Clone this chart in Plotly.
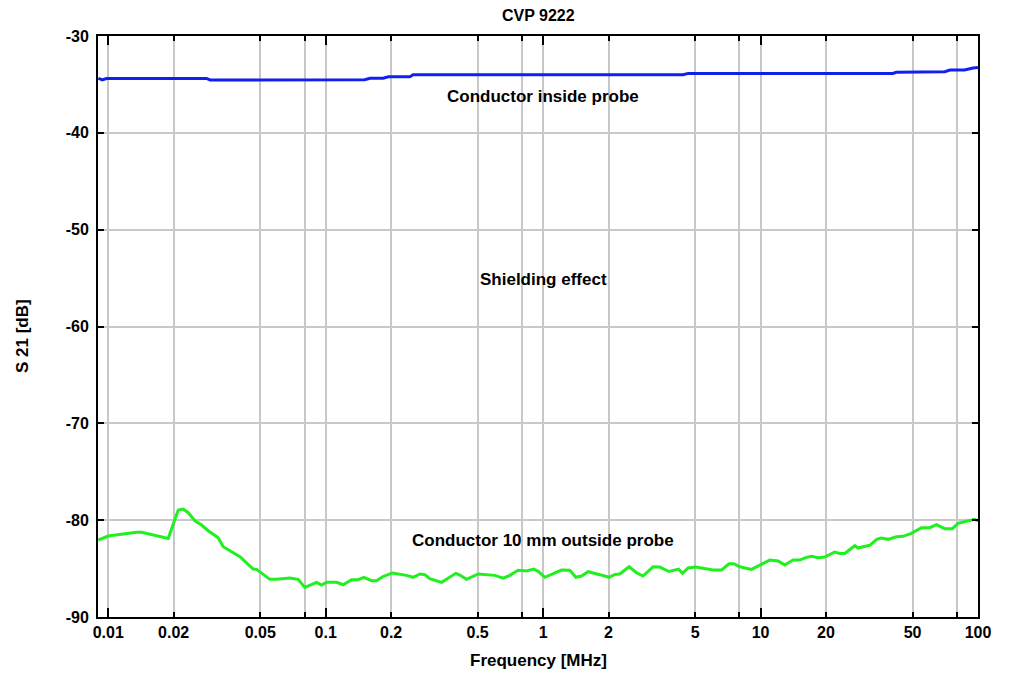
import plotly.graph_objects as go

# Blue: conductor inside probe
blue_f = [0.009, 0.0094, 0.0098, 0.0283, 0.0294, 0.151, 0.160, 0.184, 0.194, 0.244, 0.252,
          4.40, 4.65, 40.6, 42.1, 49.4, 53.1, 70.3, 74.4, 86.6, 95.0, 100.0]
blue_db = [-34.37, -34.54, -34.40, -34.38, -34.54, -34.52, -34.36, -34.36, -34.22, -34.22, -34.00,
           -34.00, -33.86, -33.86, -33.75, -33.75, -33.68, -33.68, -33.51, -33.51, -33.30, -33.25]

# Green: conductor 10 mm outside probe
green_f = [0.009, 0.0100, 0.01351, 0.01424, 0.01888, 0.02099, 0.02213, 0.02333, 0.02504, 0.02688,
           0.02883, 0.03205, 0.03379, 0.04032, 0.04642, 0.04812, 0.05538, 0.05945, 0.06844, 0.07474,
           0.08024, 0.09083, 0.09575, 0.1010, 0.1122, 0.1204, 0.1316, 0.1411, 0.1498, 0.1626,
           0.1714, 0.1827, 0.2022, 0.2193, 0.2355, 0.2525, 0.2711, 0.2858, 0.3013, 0.3412,
           0.3597, 0.3968, 0.4140, 0.4444, 0.5026, 0.5997, 0.6549, 0.7030, 0.7676, 0.8389,
           0.9063, 0.9484, 1.018, 1.215, 1.327, 1.414, 1.502, 1.610, 1.823, 2.011,
           2.137, 2.252, 2.486, 2.688, 2.883, 3.203, 3.440, 3.790, 4.20, 4.375,
           4.642, 5.036, 6.047, 6.611, 7.164, 7.530, 8.024, 9.083, 11.02, 12.04,
           12.92, 14.11, 15.14, 16.26, 17.14, 18.38, 19.73, 21.93, 23.13, 24.39,
           27.12, 28.07, 29.60, 31.78, 34.32, 35.96, 38.57, 42.15, 45.20, 49.41,
           54.94, 59.97, 64.39, 70.30, 76.27, 80.91, 96.56, 100.0]
green_db = [-82.05, -81.64, -81.26, -81.26, -81.88, -78.95, -78.85, -79.23, -80.06, -80.50,
            -81.09, -81.81, -82.74, -83.77, -85.05, -85.08, -86.11, -86.11, -85.98, -86.11,
            -86.94, -86.42, -86.70, -86.42, -86.42, -86.67, -86.15, -86.15, -85.90, -86.25,
            -86.25, -85.84, -85.46, -85.56, -85.70, -85.90, -85.56, -85.63, -86.05, -86.42,
            -86.11, -85.49, -85.67, -86.11, -85.56, -85.70, -85.98, -85.70, -85.18, -85.25,
            -85.05, -85.28, -85.90, -85.15, -85.18, -85.90, -85.77, -85.32, -85.63, -85.90,
            -85.60, -85.56, -84.81, -85.43, -85.77, -84.81, -84.84, -85.30, -85.05, -85.49,
            -84.94, -84.84, -85.15, -85.15, -84.50, -84.50, -84.81, -85.08, -84.12, -84.22,
            -84.63, -84.12, -84.12, -83.84, -83.74, -83.88, -83.81, -83.29, -83.43, -83.43,
            -82.64, -82.88, -82.74, -82.60, -81.95, -81.84, -81.98, -81.71, -81.67, -81.36,
            -80.78, -80.78, -80.47, -80.88, -80.88, -80.33, -79.92, -80.06]

x_tickvals = [0.01, 0.02, 0.05, 0.08, 0.1, 0.2, 0.5, 0.8, 1, 2, 5, 8, 10, 20, 50, 80, 100]
x_ticktext = ["0.01", "0.02", "0.05", "", "0.1", "0.2", "0.5", "", "1", "2", "5", "", "10", "20", "50", "", "100"]
x_major = [0.01, 0.1, 1, 10, 100]
y_tickvals = [-30, -40, -50, -60, -70, -80, -90]
y_ticktext = ["-30", "-40", "-50", "-60", "-70", "-80", "-90"]

annotations_text = ["Conductor inside probe", "Shielding effect", "Conductor 10 mm outside probe"]
annotations_y = [-36.2, -55.1, -82.15]

FONT = "Liberation Sans, Arial, sans-serif"

fig = go.Figure()
fig.add_trace(go.Scatter(x=blue_f, y=blue_db, mode="lines",
                         line=dict(color="#1020f0", width=3), showlegend=False))
fig.add_trace(go.Scatter(x=green_f, y=green_db, mode="lines",
                         line=dict(color="#20f020", width=3), showlegend=False))
# invisible trace on overlay axis for longer decade ticks
fig.add_trace(go.Scatter(x=[0.01, 100], y=[-60, -60], mode="lines", xaxis="x2",
                         line=dict(width=0), opacity=0, showlegend=False, hoverinfo="skip"))

for t, yv in zip(annotations_text, annotations_y):
    fig.add_annotation(x=0, y=yv, xref="x", yref="y", text="<b>%s</b>" % t, showarrow=False,
                       font=dict(family=FONT, size=17, color="black"))

# title and axis titles
fig.add_annotation(x=0.5008, y=1.0361, xref="paper", yref="paper", text="<b>CVP 9222</b>",
                   showarrow=False, xanchor="center", yanchor="middle",
                   font=dict(family=FONT, size=16, color="black"))
fig.add_annotation(x=0.5008, y=-0.0757, xref="paper", yref="paper", text="<b>Frequency [MHz]</b>",
                   showarrow=False, xanchor="center", yanchor="middle",
                   font=dict(family=FONT, size=17, color="black"))
fig.add_annotation(x=-0.0864, y=0.4836, xref="paper", yref="paper", text="<b>S 21 [dB]</b>",
                   showarrow=False, xanchor="center", yanchor="middle", textangle=-90,
                   font=dict(family=FONT, size=17, color="black"))

axis_common = dict(showline=True, linecolor="black", linewidth=2, mirror="ticks",
                   ticks="inside", tickcolor="black", tickwidth=1.5, zeroline=False,
                   automargin=False)

fig.update_layout(
    width=1025, height=672,
    margin=dict(l=90, r=55, t=28, b=63),
    paper_bgcolor="white", plot_bgcolor="white",
    font=dict(family=FONT, size=16, color="black"),
    xaxis=dict(type="log", range=[-2.047, 2], tickvals=x_tickvals, ticktext=x_ticktext,
               ticklen=5, showgrid=True, gridcolor="#c8c8c8", gridwidth=1.5,
               tickfont=dict(family=FONT, size=16, weight="bold"),
               **axis_common),
    xaxis2=dict(type="log", range=[-2.047, 2], overlaying="x", matches="x", side="bottom",
                tickvals=x_major, ticklen=9, ticks="inside", tickcolor="black", tickwidth=1.5,
                showticklabels=False, showgrid=False, showline=False, mirror="ticks",
                zeroline=False, automargin=False),
    yaxis=dict(range=[-90, -30], tickvals=y_tickvals, ticktext=y_ticktext, ticklen=6,
               showgrid=True, gridcolor="#c8c8c8", gridwidth=1.5,
               tickfont=dict(family=FONT, size=16, weight="bold"),
               ticklabelstandoff=4,
               **axis_common),
)

fig.write_html("out.html")
